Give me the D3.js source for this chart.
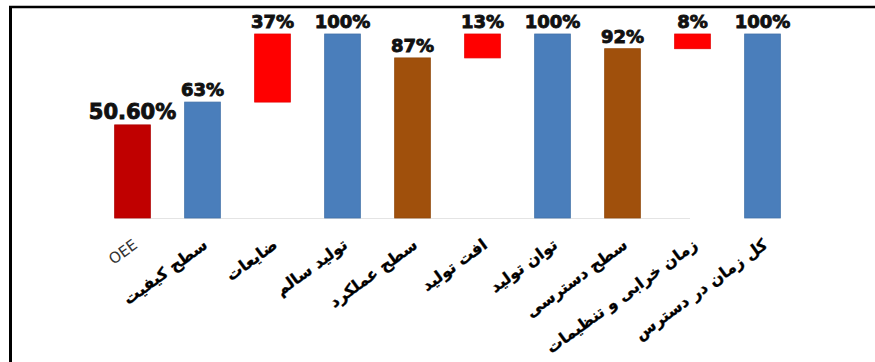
<!DOCTYPE html>
<html>
<head>
<meta charset="utf-8">
<script src="https://cdn.jsdelivr.net/npm/d3@7"></script>
<style>
    body { margin: 0; background: #fff; }
    svg { display: block; }
</style>
</head>
<body>
<div id="chart"></div>
<script>
// categories, left to right
const categories = ["OEE", "سطح کیفیت", "ضایعات", "تولید سالم", "سطح عملکرد",
    "افت تولید", "توان تولید", "سطح دسترسی", "زمان خرابی و تنظیمات", "کل زمان در دسترس"];
// bar top and bar bottom (share of total time)
const values = [0.506, 0.63, 1.00, 1.00, 0.87, 1.00, 1.00, 0.92, 1.00, 1.00];
const bases = [0, 0, 0.63, 0, 0, 0.87, 0, 0, 0.92, 0];
const valueLabels = ["50.60%", "63%", "37%", "100%", "87%", "13%", "100%", "92%", "8%", "100%"];
const kinds = ["oee", "level", "loss", "level", "rate", "loss", "level", "rate", "loss", "level"];

const colors = {oee: "#C00000", level: "#4A7EBB", loss: "#FF0000", rate: "#A0500C"};

const width = 875, height = 362;

const svg = d3.select("#chart").append("svg")
    .attr("width", width)
    .attr("height", height);

// frame (top and left edges only)
svg.append("line")
    .attr("x1", 9).attr("x2", width)
    .attr("y1", 7).attr("y2", 7)
    .attr("stroke", "#000").attr("stroke-width", 2.5);
svg.append("line")
    .attr("x1", 10.5).attr("x2", 10.5)
    .attr("y1", 6).attr("y2", height)
    .attr("stroke", "#000").attr("stroke-width", 3);

const x = d3.scaleBand()
    .domain(categories)
    .range([97.5, 797.5])
    .paddingInner(0.49)
    .paddingOuter(0.245);

const y = d3.scaleLinear()
    .domain([0, 1])
    .range([218, 34]);

const data = categories.map((c, i) => ({
    name: c, top: values[i], base: bases[i], label: valueLabels[i], kind: kinds[i]
}));

// baseline
svg.append("line")
    .attr("x1", x(categories[0])).attr("x2", 690)
    .attr("y1", y(0) + 0.5).attr("y2", y(0) + 0.5)
    .attr("stroke", "#e4e4e4").attr("stroke-width", 1);

svg.append("g")
    .selectAll("rect")
    .data(data)
    .join("rect")
    .attr("x", d => x(d.name))
    .attr("width", x.bandwidth())
    .attr("y", d => y(d.top))
    .attr("height", d => y(d.base) - y(d.top))
    .attr("fill", d => colors[d.kind])
    .attr("stroke", d => d3.color(colors[d.kind]).darker(0.3))
    .attr("stroke-width", 0.8);

// value labels
svg.append("g")
    .selectAll("text")
    .data(data)
    .join("text")
    .attr("x", d => x(d.name) + x.bandwidth() / 2)
    .attr("y", d => y(d.top) - 6)
    .attr("text-anchor", "middle")
    .style("font-family", "DejaVu Sans")
    .style("font-weight", "bold")
    .style("font-size", d => d.kind === "oee" ? "21px" : "18px")
    .attr("fill", "#111")
    .attr("stroke", "#111")
    .attr("stroke-width", 0.9)
    .text(d => d.label);

// category labels, rotated
svg.append("g")
    .selectAll("text")
    .data(data)
    .join("text")
    .attr("transform", d => `translate(${x(d.name) + x.bandwidth() / 2 + 6}, 247) rotate(-36)`)
    .attr("text-anchor", "end")
    .style("font-family", "DejaVu Sans")
    .style("font-weight", d => d.kind === "oee" ? "normal" : "bold")
    .style("font-size", d => d.kind === "oee" ? "15px" : "16px")
    .attr("fill", d => d.kind === "oee" ? "#333" : "#000")
    .attr("stroke", d => d.kind === "oee" ? "none" : "#000")
    .attr("stroke-width", 0.3)
    .text(d => d.name);
</script>
</body>
</html>
